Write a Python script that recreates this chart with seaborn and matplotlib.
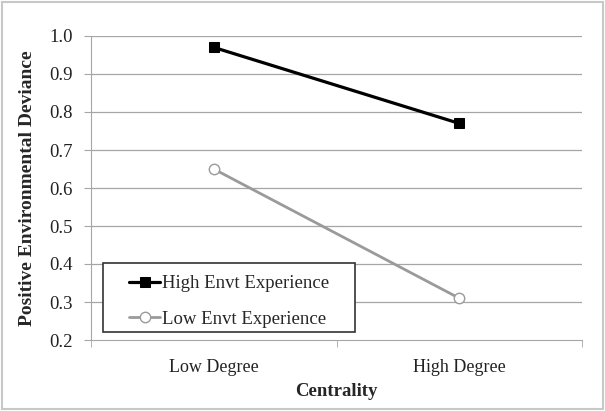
import pandas as pd
import matplotlib.pyplot as plt
import seaborn as sns
from matplotlib.patches import Rectangle

categories = ['Low Degree', 'High Degree']
high_envt = [0.97, 0.77]
low_envt = [0.65, 0.31]

df = pd.DataFrame({
    'Centrality': categories * 2,
    'Value': high_envt + low_envt,
    'Group': ['High Envt Experience'] * 2 + ['Low Envt Experience'] * 2,
})
df['x'] = [0, 1, 0, 1]

sns.set_style('white')
plt.rcParams['font.family'] = ['Liberation Serif', 'DejaVu Serif']

fig = plt.figure(figsize=(6.05, 4.11), dpi=100)
ax = fig.add_axes([91 / 605, 1 - 340 / 411, (582 - 91) / 605, (340 - 36) / 411])

# gridlines first
for v in [0.3, 0.4, 0.5, 0.6, 0.7, 0.8, 0.9, 1.0]:
    ax.axhline(v, color='#a6a6a6', lw=0.9, zorder=0)

sns.lineplot(data=df[df['Group'] == 'High Envt Experience'], x='x', y='Value',
             color='black', lw=2.3, marker='s', markersize=7.5,
             markerfacecolor='black', markeredgecolor='black',
             label='High Envt Experience', ax=ax)
sns.lineplot(data=df[df['Group'] == 'Low Envt Experience'], x='x', y='Value',
             color='#9a9a9a', lw=2.0, marker='o', markersize=7.5,
             markerfacecolor='white', markeredgecolor='#9a9a9a', markeredgewidth=1.0,
             label='Low Envt Experience', ax=ax)

ax.set_xlim(-0.5, 1.5)
ax.set_ylim(0.2, 1.0)
ax.set_yticks([0.2, 0.3, 0.4, 0.5, 0.6, 0.7, 0.8, 0.9, 1.0])
ax.set_yticklabels(['0.2', '0.3', '0.4', '0.5', '0.6', '0.7', '0.8', '0.9', '1.0'])
ax.set_xticks([0, 1])
ax.set_xticklabels(categories)
ax.set_xticks([-0.5, 0.5, 1.5], minor=True)
ax.tick_params(axis='x', which='major', length=0, pad=14, labelsize=13, labelcolor='#222222')
ax.tick_params(axis='x', which='minor', length=5, color='#a6a6a6', direction='out')
ax.tick_params(axis='y', length=5, color='#a6a6a6', direction='out', labelsize=13.5,
               labelcolor='#222222', pad=8)
ax.xaxis.set_tick_params(bottom=True, which='minor')
ax.yaxis.set_tick_params(left=True)

for s in ['top', 'right']:
    ax.spines[s].set_visible(False)
ax.spines['left'].set_color('#a6a6a6')
ax.spines['bottom'].set_color('#a6a6a6')

ax.set_xlabel('Centrality', fontsize=13.5, fontweight='bold', labelpad=5)
ax.set_ylabel('Positive Environmental Deviance', fontsize=14, fontweight='bold', labelpad=10)

# legend box: wider horizontal padding than matplotlib allows, so frame drawn separately
box_l, box_r, box_b, box_t = 12 / 491, 264 / 491, 8 / 304, 77 / 304
ax.add_patch(Rectangle((box_l, box_b), box_r - box_l, box_t - box_b, transform=ax.transAxes,
                       facecolor='white', edgecolor='#333333', lw=1.2, zorder=4))
leg = ax.legend(loc='center', bbox_to_anchor=((box_l + box_r) / 2, (box_b + box_t) / 2 - 4 / 304),
                fontsize=13.5, frameon=False, handlelength=1.7,
                handletextpad=0.1, labelspacing=1.0, borderpad=0)
leg.set_zorder(5)

fig.patches.append(Rectangle((0.004, 0.006), 0.992, 0.988, transform=fig.transFigure,
                             fill=False, edgecolor='#c8c8c8', lw=1.5))

fig.savefig('out.png', dpi=100)
